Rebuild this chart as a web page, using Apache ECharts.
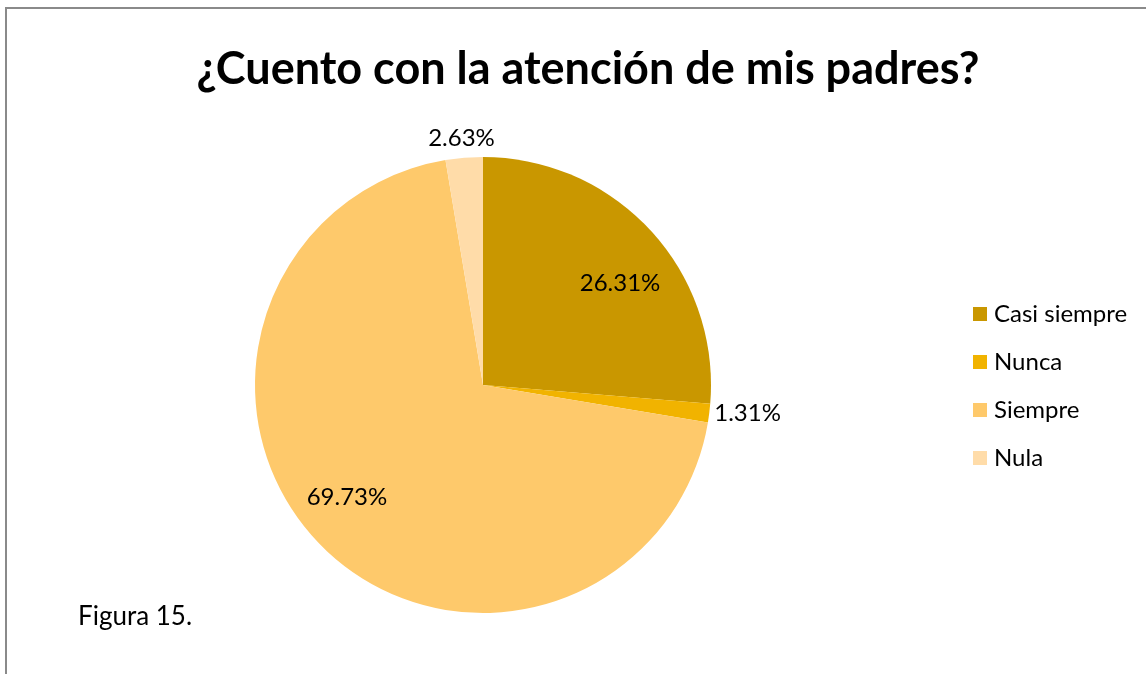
<!DOCTYPE html>
<html>
<head>
<meta charset="utf-8">
<script src="https://cdn.jsdelivr.net/npm/echarts@6/dist/echarts.min.js"></script>
<style>
	html, body { margin: 0; padding: 0; background: #fff; }
	#chart { width: 1146px; height: 674px; }
</style>
</head>
<body>
<div id="chart"></div>
<script>
	const categories = ['Casi siempre', 'Nunca', 'Siempre', 'Nula']
	const values = [26.31, 1.31, 69.73, 2.63]
	const colors = ['#C99700', '#F1B300', '#FEC96B', '#FFDCA9']
	// big slices get their label inside, small ones outside
	const insideLabel = [true, false, true, false]
	// excel nudges its labels a bit off the mid-angle
	const labelOffsets = [[9, 16], [0, 0], [-13, -11], [0, 0]]
	const outsideLen = [0, 0, 0, 20]

	const FONT = 'Lato, "Open Sans", sans-serif'
	const R = 228

	const chart = echarts.init(document.getElementById('chart'))

	const mainData = categories.map((name, i) => ({
		name,
		value: values[i],
		itemStyle: { color: colors[i] },
		label: { show: !insideLabel[i] },
		labelLine: { length: outsideLen[i], length2: 0 }
	}))

	// transparent ring only used to place inside labels at ~3/4 radius
	const ringData = categories.map((name, i) => ({
		name,
		value: values[i],
		itemStyle: { color: 'rgba(0,0,0,0)' },
		label: { show: insideLabel[i], offset: labelOffsets[i] }
	}))

	const labelFmt = p => p.value.toFixed(2) + '%'

	chart.setOption({
		animation: false,
		title: {
			text: '¿Cuento con la atención de mis padres?',
			left: 583,
			top: 42,
			textAlign: 'center',
			textStyle: { fontFamily: FONT, fontWeight: 'bold', fontSize: 45, color: '#000' }
		},
		legend: {
			orient: 'vertical',
			left: 968,
			top: 297,
			itemWidth: 14,
			itemHeight: 14,
			itemGap: 24,
			icon: 'rect',
			data: categories,
			textStyle: { fontFamily: FONT, fontSize: 24, color: '#000', padding: [0, 0, 0, 2] }
		},
		graphic: [
			{
				type: 'rect',
				shape: { x: 6, y: 8, width: 1200, height: 700 },
				style: { fill: 'none', stroke: '#8a8a8a', lineWidth: 2 },
				silent: true
			},
			{
				type: 'text',
				left: 78,
				top: 604,
				style: { text: 'Figura 15.', font: '26px ' + FONT, fill: '#000' }
			}
		],
		series: [
			{
				type: 'pie',
				center: [483, 385],
				radius: [0, R],
				startAngle: 90,
				clockwise: true,
				silent: true,
				label: {
					position: 'outside',
					formatter: labelFmt,
					fontFamily: FONT,
					fontSize: 24,
					color: '#000'
				},
				labelLine: { show: false },
				labelLayout: p => (p.dataIndex === 3 ? { align: 'center', dx: 4 } : {}),
				data: mainData
			},
			{
				type: 'pie',
				center: [483, 385],
				radius: [R / 2, R],
				startAngle: 90,
				clockwise: true,
				silent: true,
				label: {
					position: 'inside',
					formatter: labelFmt,
					fontFamily: FONT,
					fontSize: 24,
					color: '#000'
				},
				labelLine: { show: false },
				data: ringData
			}
		]
	})
</script>
</body>
</html>
